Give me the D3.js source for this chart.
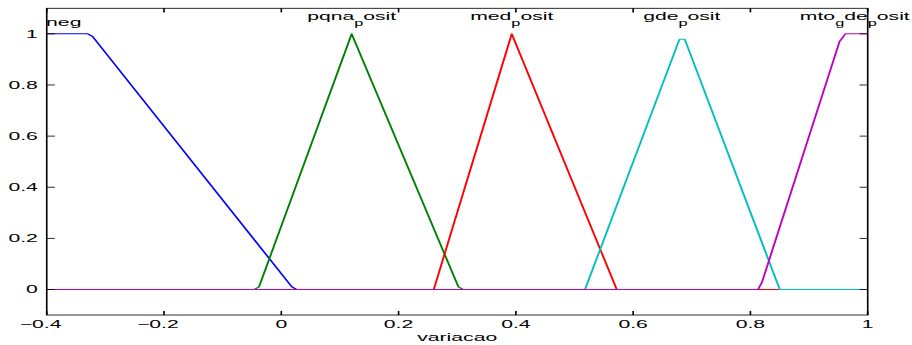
<!DOCTYPE html>
<meta charset="utf-8">
<style>
    body { margin: 0; background: #fff; }
    text { font-family: "Liberation Sans", Arial, Helvetica, sans-serif; fill: #000; }
    .mf { fill: none; stroke-width: 1.22; stroke-linejoin: round; }
    .frame line, .frame rect { stroke: #000; stroke-width: 1; fill: none; }
</style>
<body>
<script src="https://cdn.jsdelivr.net/npm/d3@7"></script>
<script>
    // membership functions of "variacao" (corner points)
    var mfNames = ["neg", "pqna_posit", "med_posit", "gde_posit", "mto_gde_posit"];
    var mfColors = ["#0000ff", "#008000", "#ff0000", "#00bfbf", "#bf00bf"];
    var negX = [-0.4, -0.33, -0.322, 0.018, 0.026, 1],
        negY = [1, 1, 0.99, 0.01, 0, 0];
    var pqnaX = [-0.4, -0.046, -0.038, 0.12, 0.302, 0.31, 1],
        pqnaY = [0, 0, 0.01, 1, 0.01, 0, 0];
    var medX = [-0.4, 0.26, 0.393, 0.572, 1],
        medY = [0, 0, 1, 0, 0];
    var gdeX = [-0.4, 0.518, 0.679, 0.688, 0.85, 1],
        gdeY = [0, 0, 0.979, 0.979, 0, 0];
    var mtoX = [-0.4, 0.813, 0.82, 0.952, 0.962, 1],
        mtoY = [0, 0, 0.03, 0.97, 1, 1];
    var labelX = [-0.371, 0.12, 0.393, 0.683, 0.978];
    var xTicks = [-0.4, -0.2, 0, 0.2, 0.4, 0.6, 0.8, 1];
    var yTicks = [0, 0.2, 0.4, 0.6, 0.8, 1];
    var xLabel = "variacao";

    var seriesX = [negX, pqnaX, medX, gdeX, mtoX],
        seriesY = [negY, pqnaY, medY, gdeY, mtoY];

    // figure drawn at 560x420, then stretched into the 912x345 window
    var W = 912, H = 345, fw = 560, fh = 420;
    var margin = {left: 28.7, right: 560 - 532.8, top: 10.1, bottom: 420 - 383.5};
    var width = fw - margin.left - margin.right,
        height = fh - margin.top - margin.bottom;

    var x = d3.scaleLinear().domain([-0.4, 1]).range([0, width]);
    var y = d3.scaleLinear().domain([-0.1, 1.1]).range([height, 0]);

    var svg = d3.select("body").append("svg")
        .attr("width", W)
        .attr("height", H);
    var g = svg.append("g")
        .attr("transform", "scale(" + (W / fw) + "," + (H / fh) + ") translate(" + margin.left + "," + margin.top + ")");

    // curves
    var line = d3.line()
        .x(function(d) { return x(d[0]); })
        .y(function(d) { return y(d[1]); });

    seriesX.forEach(function(xs, i) {
        var pts = xs.map(function(v, j) { return [v, seriesY[i][j]]; });
        g.append("path")
            .attr("class", "mf")
            .attr("d", line(pts))
            .style("stroke", mfColors[i]);
    });

    // labels, with the "_" read as a TeX subscript like MATLAB does
    mfNames.forEach(function(name, i) {
        var hasSub = name.indexOf("_") >= 0;
        var t = g.append("text")
            .attr("x", x(labelX[i]))
            .attr("y", hasSub ? 14 : 21.6)
            .style("text-anchor", "middle")
            .style("font-size", "13px");
        var parts = name.split("_");
        t.append("tspan").text(parts[0]);
        for (var k = 1; k < parts.length; k++) {
            t.append("tspan").attr("dy", 7.5).style("font-size", "10px").text(parts[k].charAt(0));
            t.append("tspan").attr("dy", -7.5).text(parts[k].slice(1));
        }
    });

    // frame and ticks (inward on all four sides)
    var frame = g.append("g").attr("class", "frame");
    frame.append("rect").attr("width", width).attr("height", height);
    var tl = 5;
    xTicks.forEach(function(v) {
        frame.append("line").attr("x1", x(v)).attr("x2", x(v)).attr("y1", height).attr("y2", height - tl);
        frame.append("line").attr("x1", x(v)).attr("x2", x(v)).attr("y1", 0).attr("y2", tl);
    });
    yTicks.forEach(function(v) {
        frame.append("line").attr("x1", 0).attr("x2", tl).attr("y1", y(v)).attr("y2", y(v));
        frame.append("line").attr("x1", width).attr("x2", width - tl).attr("y1", y(v)).attr("y2", y(v));
    });

    // x tick labels: number centred on the tick, minus sign hanging to the left
    xTicks.forEach(function(v) {
        var s = d3.format("")(Math.abs(v));
        var t = g.append("text")
            .attr("x", x(v))
            .attr("y", height + 15.5)
            .style("text-anchor", "middle")
            .style("font-size", "13px")
            .text(s);
        if (v < 0) {
            var w = t.node().getComputedTextLength();
            g.append("text")
                .attr("x", x(v) - w / 2)
                .attr("y", height + 15.5)
                .style("text-anchor", "end")
                .style("font-size", "13px")
                .text("\u2212");
        }
    });

    yTicks.forEach(function(v) {
        g.append("text")
            .attr("x", -5.5)
            .attr("y", y(v))
            .attr("dy", "0.36em")
            .style("text-anchor", "end")
            .style("font-size", "13px")
            .text(d3.format("")(v));
    });

    g.append("text")
        .attr("x", width / 2)
        .attr("y", height + 31.5)
        .style("text-anchor", "middle")
        .style("font-size", "13px")
        .text(xLabel);
</script>
</body>
